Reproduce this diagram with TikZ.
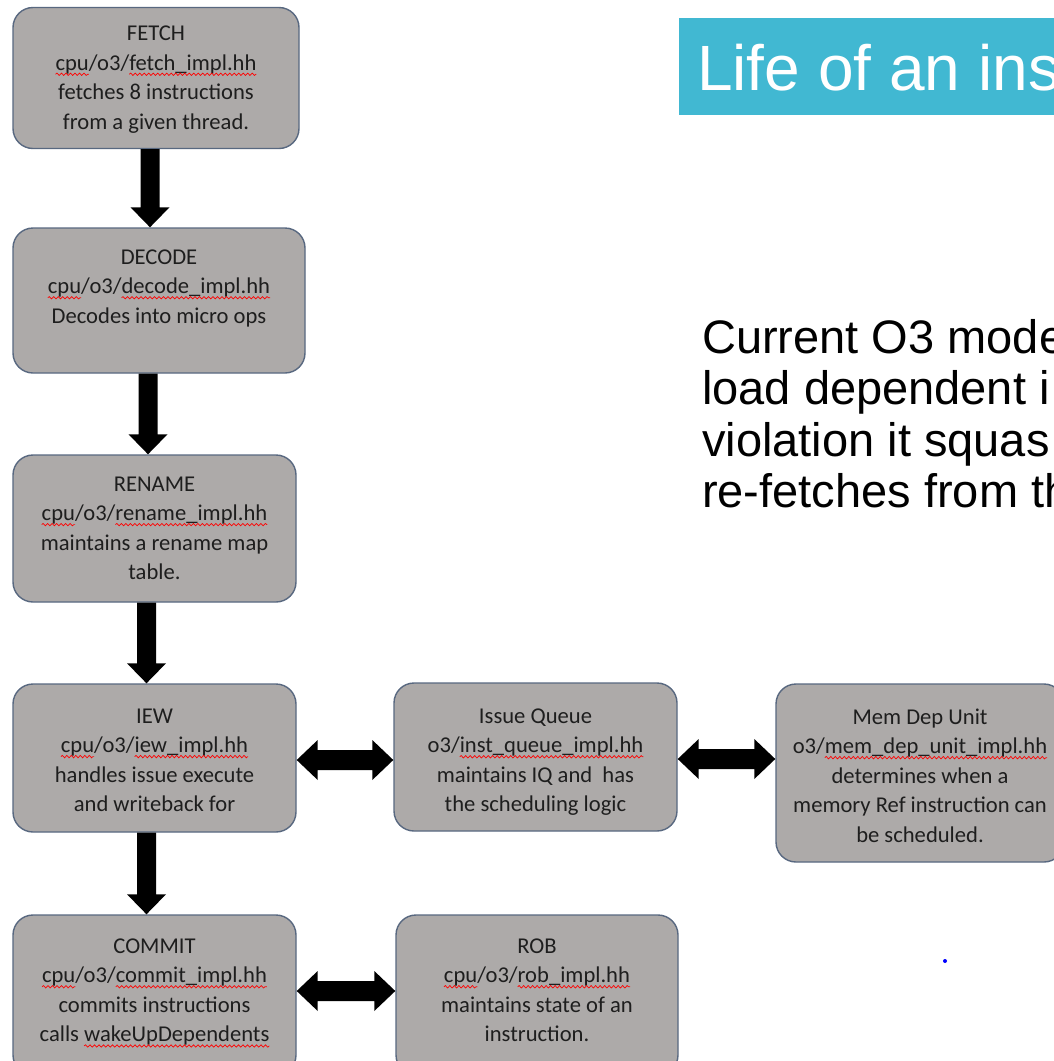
\documentclass[tikz,border=0pt]{standalone}
\usepackage{fontspec}
\setmainfont{Carlito}
\newfontfamily\arialf{Liberation Sans}
\usetikzlibrary{calc,decorations.pathmorphing}
\newsavebox\sqbox
\newcommand\redsq[1]{\sbox\sqbox{#1}\usebox\sqbox\tikz[overlay,baseline=0pt,x=1pt,y=1pt]{\draw[red, line width=0.7pt, decorate, decoration={snake, amplitude=1.2pt, segment length=4.5pt}] (-\wd\sqbox,-4) -- (0,-4);}}
% vertical block arrow: from node anchor #1 (tail) down to node anchor #2 (tip), at the x of #1
\newcommand\varrow[2]{\fill[black] let \p1=(#1), \p2=(#2) in
  (\x1-9.5pt,\y1) -- (\x1-9.5pt,\y2+20pt) -- (\x1-19.5pt,\y2+20pt) -- (\x1,\y2)
  -- (\x1+19.5pt,\y2+20pt) -- (\x1+9.5pt,\y2+20pt) -- (\x1+9.5pt,\y1) -- cycle;}
% horizontal double block arrow: between node anchors #1 (left) and #2 (right), at the y of #1
\newcommand\harrow[2]{\fill[black] let \p1=(#1), \p2=(#2) in
  (\x1,\y1) -- (\x1+21pt,\y1+20pt) -- (\x1+21pt,\y1+10pt) -- (\x2-21pt,\y1+10pt)
  -- (\x2-21pt,\y1+20pt) -- (\x2,\y1) -- (\x2-21pt,\y1-20pt) -- (\x2-21pt,\y1-10pt)
  -- (\x1+21pt,\y1-10pt) -- (\x1+21pt,\y1-20pt) -- cycle;}
\definecolor{boxfill}{RGB}{173,170,169}
\definecolor{boxline}{RGB}{88,104,128}
\definecolor{titlebg}{RGB}{65,184,210}
\definecolor{boxtext}{RGB}{30,30,30}
\begin{document}
\begin{tikzpicture}[x=1pt,y=-1pt,
  procbox/.style={draw=boxline, line width=1.4pt, fill=boxfill, rounded corners=20pt, inner sep=0pt},
  boxlabel/.style={anchor=north, align=center, inner sep=0pt, text=boxtext, font=\fontsize{22.6}{29.6}\selectfont},
  bodytext/.style={anchor=base west, inner sep=0pt, font=\arialf\fontsize{47}{51}\selectfont}
]
\useasboundingbox (0,0) rectangle (1054,1061);
\clip (0,0) rectangle (1054,1061);
\fill[white] (0,0) rectangle (1054,1061);

% title
\node[fill=titlebg, minimum width=400pt, minimum height=97pt, inner sep=0pt, anchor=north west] (titlebox) at (679,18) {};
\node[anchor=base west, inner sep=0pt, text=white, font=\arialf\fontsize{64}{68}\selectfont] (title) at (697,90) {Life of an ins};

% body text
\node[bodytext] (t1) at (702,353) {Current O3 mode};
\node[bodytext] (t2) at (702,404.5) {load dependent i};
\node[bodytext] (t3) at (702,456) {violation it squas};
\node[bodytext] (t4) at (702,507.5) {re-fetches from th};

% boxes
\node[procbox, minimum width=286pt, minimum height=141pt] (fetch) at (156,78) {};
\node[procbox, minimum width=292pt, minimum height=145pt] (decode) at (159,300.5) {};
\node[procbox, minimum width=283pt, minimum height=147pt] (rename) at (154.5,528.5) {};
\node[procbox, minimum width=283pt, minimum height=148pt] (iew) at (154.5,758) {};
\node[procbox, minimum width=283pt, minimum height=148pt] (iq) at (535.5,757) {};
\node[procbox, minimum width=288pt, minimum height=178pt] (mem) at (920,773) {};
\node[procbox, minimum width=283pt, minimum height=160pt] (commit) at (154.5,995) {};
\node[procbox, minimum width=282pt, minimum height=160pt] (rob) at (537,995) {};

% labels
\node[boxlabel, yshift=-19pt] (fetcht) at (fetch.north) {FETCH\\\redsq{cpu}/o3/\redsq{fetch\_impl.hh}\\fetches 8 instructions\\from a given thread.};
\node[boxlabel, yshift=-22pt] (decodet) at (decode.north) {DECODE\\\redsq{cpu}/o3/\redsq{decode\_impl.hh}\\Decodes into micro ops};
\node[boxlabel, yshift=-22pt] (renamet) at (rename.north) {RENAME\\\redsq{cpu}/o3/\redsq{rename\_impl.hh}\\maintains a rename map\\table.};
\node[boxlabel, yshift=-25pt] (iewt) at (iew.north) {IEW\\\redsq{cpu}/o3/\redsq{iew\_impl.hh}\\handles issue execute\\and writeback for};
\node[boxlabel, yshift=-26pt] (iqt) at (iq.north) {Issue Queue\\o3/\redsq{inst\_queue\_impl.hh}\\maintains IQ and~ has\\the scheduling logic};
\node[boxlabel, yshift=-25pt] (memt) at (mem.north) {Mem Dep Unit\\o3/\redsq{mem\_dep\_unit\_impl.hh}\\determines when a\\memory Ref instruction can\\be scheduled.};
\node[boxlabel, yshift=-24pt] (committ) at (commit.north) {COMMIT\\\redsq{cpu}/o3/\redsq{commit\_impl.hh}\\commits instructions\\calls \redsq{wakeUpDependents}};
\node[boxlabel, yshift=-24pt] (robt) at (rob.north) {ROB\\\redsq{cpu}/o3/\redsq{rob\_impl.hh}\\maintains state of an\\instruction.};

% vertical arrows
\varrow{[xshift=-6pt]fetch.south}{decode.north}
\varrow{[xshift=-11pt]decode.south}{rename.north}
\varrow{[xshift=-8pt]rename.south}{iew.north}
\varrow{[xshift=-8pt]iew.south}{commit.north}

% horizontal arrows
\harrow{[yshift=-2pt]iew.east}{iq.west}
\harrow{[yshift=-2pt]iq.east}{mem.west}
\harrow{[yshift=4pt]commit.east}{rob.west}

% stray dot
\node[circle, fill=blue, inner sep=0pt, minimum size=4pt] (dot) at (945,961) {};
\end{tikzpicture}
\end{document}
